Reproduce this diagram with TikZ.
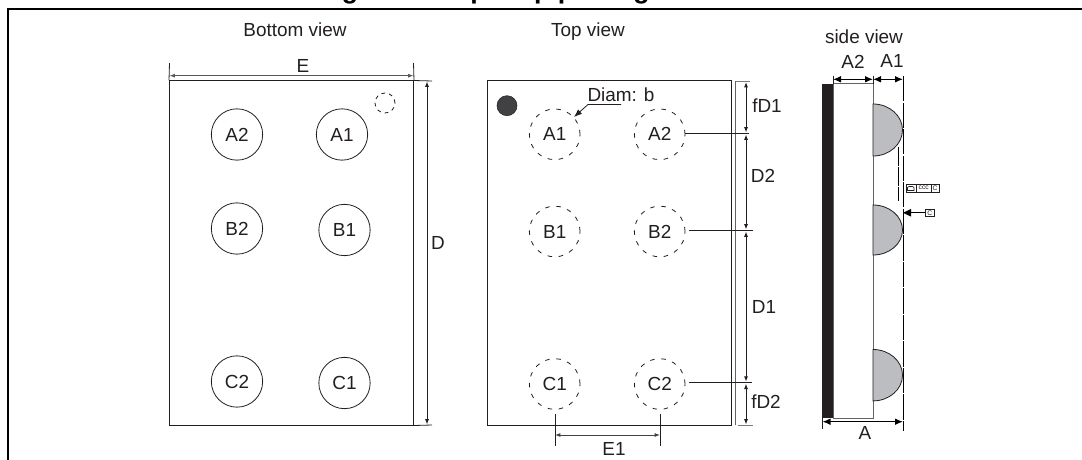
\documentclass[tikz,border=0pt]{standalone}
\usepackage{fontspec}
\setmainfont{Liberation Sans}
\usetikzlibrary{arrows.meta}
\definecolor{ballgray}{HTML}{BCBDC0}
\definecolor{inkdark}{HTML}{231F20}
\definecolor{dotgray}{HTML}{414042}
\tikzset{
  lab/.style={inner sep=0pt,font=\fontsize{14.2pt}{16pt}\selectfont,text=inkdark},
  outline/.style={draw=inkdark,line width=0.75pt,rectangle,inner sep=0pt,fill=white},
  pinsolid/.style={lab,circle,draw=inkdark,line width=0.6pt,minimum size=38.5pt},
  pindash/.style={lab,circle,draw=inkdark,line width=0.6pt,minimum size=38pt,dash pattern=on 3.4pt off 5pt},
  thinl/.style={draw=inkdark,line width=0.6pt},
  dimline/.style={draw=inkdark,line width=0.75pt,{Latex[length=4pt,width=3pt]}-{Latex[length=4pt,width=3pt]}},
  bigdim/.style={draw=black,line width=0.9pt,{Latex[length=6pt,width=5pt]}-{Latex[length=6pt,width=5pt]}},
  tol/.style={draw=inkdark,line width=0.6pt,fill=white,inner sep=0pt,font=\fontsize{5pt}{5.5pt}\selectfont,text=inkdark,minimum height=5.6pt},
}
\begin{document}
\begin{tikzpicture}[x=0.75pt,y=-0.75pt]
\useasboundingbox (0,0) rectangle (1082,460);
\begin{scope}
\clip (0,0) rectangle (1082,460);
\node[anchor=base west,inner sep=0pt,font=\fontsize{20pt}{22pt}\selectfont\bfseries] (title) at (318,-1) {Figure 3. Flip-chip package outline};
\end{scope}
% frame
\coordinate (fa) at (8.3,460); \coordinate (fb) at (8.3,9); \coordinate (fc) at (1082,9);
\draw[line width=1.5pt,black,line cap=butt] (fa) -- (fb) -- (fc);

% ---- Bottom view
\node[lab] (tbottom) at (295,30) {Bottom view};
\node[outline,minimum width=183pt,minimum height=258pt] (bot) at (291.5,253) {};
\node[pinsolid] (bA2) at (237,134.5) {A2};
\node[pinsolid] (bA1) at (342,134.5) {A1};
\node[pinsolid] (bB2) at (237,228.5) {B2};
\node[pinsolid] (bB1) at (344.5,230) {B1};
\node[pinsolid] (bC2) at (237,381.5) {C2};
\node[pinsolid] (bC1) at (344.5,383) {C1};
\node[circle,draw=inkdark,line width=0.6pt,minimum size=15pt,inner sep=0pt,dash pattern=on 2.8pt off 3pt] (bmark) at (385,103) {};
% E
\coordinate (Ea) at (169.5,63); \coordinate (Eb) at (413.5,63);
\coordinate (Ec) at (169.5,75.7); \coordinate (Ed) at (413.5,75.7);
\draw[thinl] (Ea) -- (bot.north west);
\draw[thinl] (Eb) -- (bot.north east);
\draw[dimline,draw=inkdark!75] (Ec) -- (Ed);
\node[lab] (tE) at (303,65.5) {E};
% D
\coordinate (Da) at (432,81); \coordinate (Db) at (432,425);
\coordinate (Dc) at (427,81.5); \coordinate (Dd) at (427,424.5);
\draw[thinl] (bot.north east) -- (Da);
\draw[thinl] (bot.south east) -- (Db);
\draw[dimline] (Dc) -- (Dd);
\node[lab] (tD) at (438,243) {D};

% ---- Top view
\node[lab] (ttop) at (588,32) {Top view};
\node[outline,minimum width=183pt,minimum height=258pt] (top) at (609.5,253) {};
\coordinate (dblA) at (735,81); \coordinate (dblB) at (735,425);
\draw[draw=inkdark!70,line width=0.6pt] (dblA) -- (dblB);
\node[circle,fill=dotgray,draw=inkdark,line width=0.4pt,minimum size=15pt,inner sep=0pt] (dot) at (507,105.7) {};
\node[pindash] (tA1) at (554.7,134.3) {A1};
\node[pindash] (tA2) at (659.7,134.3) {A2};
\node[pindash] (tB1) at (554.7,231.5) {B1};
\node[pindash] (tB2) at (659.7,231.5) {B2};
\node[pindash] (tC1) at (554.7,384) {C1};
\node[pindash] (tC2) at (659.7,384) {C2};
% Diam
\node[lab] (tDiam) at (621,94.5) {Diam: b};
\coordinate (dia) at (621,104.5); \coordinate (dib) at (588,104.5);
\coordinate (dic) at (574,117);
\draw[thinl,-{Latex[length=6pt,width=4.5pt]}] (dia) -- (dib) -- (dic);
% side dims of the top view
\coordinate (t1a) at (736,81); \coordinate (t1b) at (750,81);
\draw[draw=inkdark!60,line width=0.6pt] (t1a) -- (t1b);
\coordinate (t2a) at (685,133.5); \coordinate (t2b) at (749,133.5);
\draw[thinl] (t2a) -- (t2b);
\coordinate (t3a) at (689,230.5); \coordinate (t3b) at (753,230.5);
\draw[thinl] (t3a) -- (t3b);
\coordinate (t4a) at (689,382.7); \coordinate (t4b) at (752,382.7);
\draw[thinl] (t4a) -- (t4b);
\coordinate (t5a) at (738,425); \coordinate (t5b) at (753,425);
\draw[draw=inkdark!60,line width=0.6pt] (t5a) -- (t5b);
\coordinate (v1) at (746,82); \coordinate (v2) at (746,132.5);
\coordinate (v3) at (746,134.5); \coordinate (v4) at (746,229.5);
\coordinate (v5) at (746,231.5); \coordinate (v6) at (746,381.7);
\coordinate (v7) at (746,383.7); \coordinate (v8) at (746,424.5);
\draw[dimline] (v1) -- (v2);
\draw[dimline] (v3) -- (v4);
\draw[dimline] (v5) -- (v6);
\draw[dimline] (v7) -- (v8);
\node[lab] (tfD1) at (767,105.5) {fD1};
\node[lab] (tD2) at (763,176) {D2};
\node[lab] (tD1) at (764,307) {D1};
\node[lab] (tfD2) at (766,402) {fD2};
% E1
\coordinate (e1a) at (555,414); \coordinate (e1b) at (555,446);
\coordinate (e1c) at (660,414); \coordinate (e1d) at (660,446);
\coordinate (e1e) at (555,435); \coordinate (e1f) at (660,435);
\draw[thinl] (e1a) -- (e1b);
\draw[thinl] (e1c) -- (e1d);
\draw[dimline,draw=inkdark!85] (e1e) -- (e1f);
\node[lab] (tE1) at (614,449) {E1};

% ---- Side view
\node[lab] (tside) at (864,37) {side view};
\node[lab] (tsA2) at (853,62) {A2};
\node[lab] (tsA1) at (892,61) {A1};
\node[lab] (tsA) at (865,433) {A};
\node[rectangle,fill=inkdark,draw=none,minimum width=8.25pt,minimum height=250.5pt,inner sep=0pt] (bar) at (827.5,251) {};
\node[rectangle,draw=inkdark!70,line width=0.75pt,fill=white,minimum width=30pt,minimum height=250.5pt,inner sep=0pt] (body) at (853,251) {};
\filldraw[fill=ballgray,draw=inkdark,line width=0.6pt] (873,104) arc[start angle=90,end angle=-90,x radius=29.5,y radius=-26] -- cycle;
\filldraw[fill=ballgray,draw=inkdark,line width=0.6pt] (873,205) arc[start angle=90,end angle=-90,x radius=29.5,y radius=-25] -- cycle;
\filldraw[fill=ballgray,draw=inkdark,line width=0.6pt] (873,349.5) arc[start angle=90,end angle=-90,x radius=29.5,y radius=-25.7] -- cycle;
% dashed reference lines
\coordinate (ra) at (903,76); \coordinate (rb) at (903,431);
\draw[draw=black,line width=0.75pt,dash pattern=on 19pt off 0.9pt] (ra) -- (rb);
\coordinate (rc) at (898.7,147); \coordinate (rd) at (898.7,201);
\draw[draw=black,line width=0.7pt,dash pattern=on 14pt off 1pt] (rc) -- (rd);
% dims
\coordinate (s1) at (833,76); \coordinate (s1b) at (833,84);
\coordinate (s2) at (873,76); \coordinate (s2b) at (873,84);
\draw[thinl] (s1) -- (s1b);
\draw[thinl] (s2) -- (s2b);
\coordinate (s3) at (833,79.3); \coordinate (s4) at (873,79.3); \coordinate (s5) at (903,79.3);
\draw[bigdim] (s3) -- (s4);
\draw[bigdim] (s4) -- (s5);
\coordinate (s6) at (822.5,418); \coordinate (s7) at (822.5,429);
\draw[thinl] (s6) -- (s7);
\coordinate (s8) at (822.5,421.7); \coordinate (s9) at (903,421.7);
\draw[bigdim] (s8) -- (s9);
% tolerance frames
\node[tol,anchor=west,minimum width=7.75pt] (tf1) at (905.7,188.2) {};
\node[tol,anchor=west,minimum width=11pt] (tf2) at (916,188.2) {ccc};
\node[tol,anchor=west,minimum width=6pt] (tf3) at (930.7,188.2) {C};
\draw[draw=inkdark,line width=0.5pt] (907.5,190.5) -- (907.5,187.5) -- (909,186.5) -- (912.5,186.5) -- (914,187.5) -- (914,190.5) -- cycle;
\node[tol,anchor=west,minimum width=6.5pt] (tf4) at (925,212.8) {C};
\coordinate (tfarrow) at (903,212.8);
\draw[draw=black,line width=0.75pt,{Triangle[length=6pt,width=5.5pt]}-] (tfarrow) -- (tf4.west);
\end{tikzpicture}
\end{document}
